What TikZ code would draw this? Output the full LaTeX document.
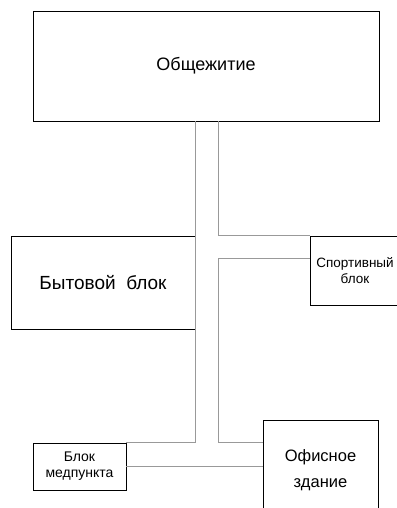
\documentclass[tikz,border=0pt]{standalone}
\usepackage{fontspec}
\setmainfont{Liberation Sans}
\tikzset{
  block/.style={draw=black, line width=0.8pt, inner sep=2pt, align=center},
  link/.style={draw=black!40, line width=0.7pt}
}
\begin{document}
\begin{tikzpicture}[x=1pt, y=-1pt]
        \useasboundingbox (0, 0) rectangle (396, 508);
        \node[block, minimum width=346pt, minimum height=110pt, font=\fontsize{18}{21}\selectfont] (obsh) at (206, 66) {Общежитие};
        \node[block, minimum width=184pt, minimum height=93pt, font=\fontsize{19}{22}\selectfont] (byt) at (103, 282.5) {Бытовой\ \ блок};
        \node[block, minimum width=90pt, minimum height=69pt, font=\fontsize{13.5}{16}\selectfont] (sport) at (355, 270.5) {Спортивный\\блок};
        \node[block, minimum width=93pt, minimum height=47pt, font=\fontsize{14}{16}\selectfont] (med) at (79.5, 466.5) {Блок\\медпункта};
        \node[block, minimum width=115pt, minimum height=100pt, font=\fontsize{16.5}{26}\selectfont] (ofis) at (320.5, 470) {Офисное\\здание};
        \coordinate (lane) at (218, 121);
        % connectors
        \draw[link] (obsh.south -| byt.east) -- (med.north -| byt.east) -- (med.north east);
        \draw[link] (lane) |- (sport.north west);
        \draw[link] ([yshift=-23pt]sport.north west) -| (lane |- med.north) -- (ofis.west |- med.north);
        \draw[link] (med.east) -- (med.east -| ofis.west);
    \end{tikzpicture}
\end{document}
